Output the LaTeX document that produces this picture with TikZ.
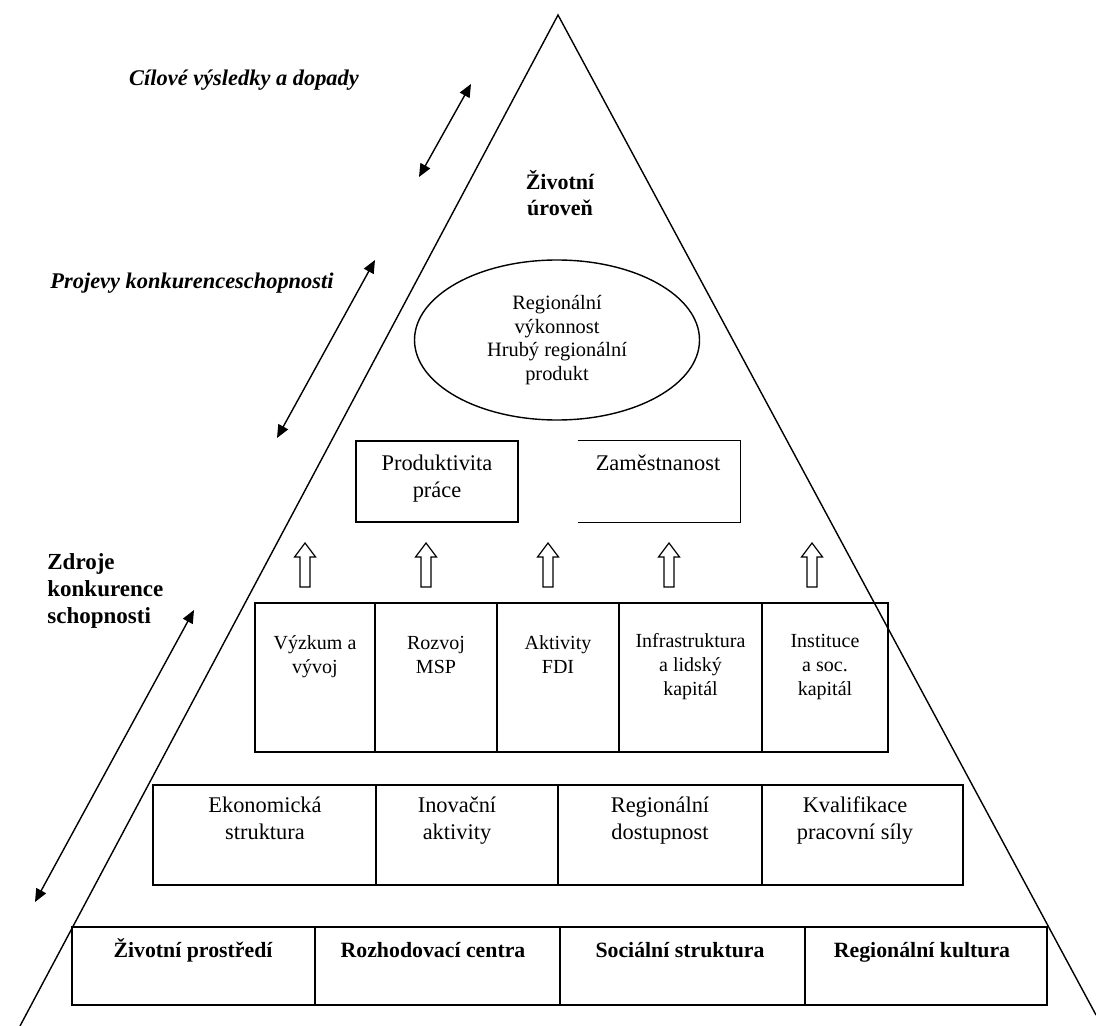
\documentclass[tikz,border=0pt]{standalone}
\usepackage{fontspec}
\setmainfont{Liberation Serif}
\usetikzlibrary{arrows.meta,shapes.geometric}
\begin{document}
\begin{tikzpicture}[x=0.5pt,y=-0.5pt,
  ln/.style={line width=0.7pt},
  cell/.style n args={2}{draw, line width=0.7pt, minimum width=#1, minimum height=#2, inner sep=0pt},
  txt/.style={align=center, inner sep=0pt, anchor=base, font=\fontsize{11.2}{13.5}\selectfont},
  smalltxt/.style={align=center, inner sep=0pt, anchor=base, font=\fontsize{10}{11.9}\selectfont},
  boldtxt/.style={align=center, inner sep=0pt, anchor=base, font=\fontsize{10.9}{13}\selectfont\bfseries},
  lab/.style={inner sep=0pt, font=\fontsize{11.2}{13.5}\selectfont\bfseries\itshape},
  dbl/.style={{Triangle[length=6.5pt,width=5.5pt]}-{Triangle[length=6.5pt,width=5.5pt]}, line width=0.7pt},
  hollowup/.pic={\draw[line width=0.6pt] (-5,22) -- (-5,-8) -- (-10.5,-8) -- (0,-22) -- (10.5,-8) -- (5,-8) -- (5,22) -- cycle;}
]
\useasboundingbox (0,0) rectangle (1096,1026);

% pyramid
\coordinate (apex) at (558,15);
\coordinate (bl) at (20,1026);
\coordinate (br) at (1096,1015);
\draw[ln] (bl) -- (apex) -- (br);

% side labels and arrows
\node[lab] (goal) at (244,80) {Cílové výsledky a dopady};
\node[lab] (proj) at (192,283) {Projevy konkurenceschopnosti};
\node[align=left, anchor=north west, inner sep=0pt, font=\fontsize{11.5}{13.5}\selectfont\bfseries] (src) at (47,553) {Zdroje\\konkurence\\schopnosti};

\coordinate (a1s) at (419,177); \coordinate (a1e) at (471,84);
\coordinate (a2s) at (277,438); \coordinate (a2e) at (375,260);
\coordinate (a3s) at (35,902);  \coordinate (a3e) at (194,610);
\draw[dbl] (a1s) -- (a1e);
\draw[dbl] (a2s) -- (a2e);
\draw[dbl] (a3s) -- (a3e);

% top (base anchor = baseline of last line)
\node[align=center, inner sep=0pt, anchor=base, font=\fontsize{11}{13}\selectfont\bfseries] (life) at (560,216) {Životní\\úroveň};
\node[draw, ellipse, ln, minimum width=142.5pt, minimum height=80pt, inner sep=0pt] (perf) at (557,340) {};
\node[smalltxt, font=\fontsize{10.2}{11.75}\selectfont] (perftxt) at (557,380) {Regionální\\výkonnost\\Hrubý regionální\\produkt};

% productivity / employment
\node[cell={81pt}{40.5pt}] (prod) at (437,481.5) {};
\node[txt] (prodtxt) at (437,497) {Produktivita\\práce};
\node[minimum width=81pt, minimum height=40.5pt, inner sep=0pt] (emp) at (659,481.5) {};
\draw[ln] (emp.north west) -- (emp.north east) -- (emp.south east) -- (emp.south west);
\node[txt] (emptxt) at (658,470) {Zaměstnanost};

% hollow arrows
\pic (u1) at (305,565) {hollowup};
\pic (u2) at (426,565) {hollowup};
\pic (u3) at (548,565) {hollowup};
\pic (u4) at (669,565) {hollowup};
\pic (u5) at (812,565) {hollowup};

% row 2
\node[cell={60pt}{74.5pt}] (r2a) at (315,677.5) {};
\node[cell={61pt}{74.5pt}] (r2b) at (436,677.5) {};
\node[cell={61pt}{74.5pt}] (r2c) at (558,677.5) {};
\node[cell={71.5pt}{74.5pt}] (r2d) at (690.5,677.5) {};
\node[cell={63pt}{74.5pt}] (r2e) at (825,677.5) {};
\node[smalltxt] (t2a) at (315,673) {Výzkum a\\vývoj};
\node[smalltxt] (t2b) at (436,673) {Rozvoj\\MSP};
\node[smalltxt] (t2c) at (558,673) {Aktivity\\FDI};
\node[smalltxt] (t2d) at (690.5,695) {Infrastruktura\\a lidský\\kapitál};
\node[smalltxt] (t2e) at (825,695) {Instituce\\a soc.\\kapitál};

% row 3
\node[cell={111.5pt}{50pt}] (r3a) at (264.5,835) {};
\node[cell={91pt}{50pt}] (r3b) at (467,835) {};
\node[cell={102pt}{50pt}] (r3c) at (660,835) {};
\node[cell={100.5pt}{50pt}] (r3d) at (862.5,835) {};
\node[txt] (t3a) at (265,839) {Ekonomická\\struktura};
\node[txt] (t3b) at (457,839) {Inovační\\aktivity};
\node[txt] (t3c) at (660,839) {Regionální\\dostupnost};
\node[txt] (t3d) at (855,839) {Kvalifikace\\pracovní síly};

% row 4
\node[cell={121.5pt}{39pt}] (r4a) at (193.5,966) {};
\node[cell={122.5pt}{39pt}] (r4b) at (437.5,966) {};
\node[cell={122.5pt}{39pt}] (r4c) at (682.5,966) {};
\node[cell={121pt}{39pt}] (r4d) at (926,966) {};
\node[boldtxt] (t4a) at (193,957) {Životní prostředí};
\node[boldtxt] (t4b) at (433,957) {Rozhodovací centra};
\node[boldtxt] (t4c) at (680,957) {Sociální struktura};
\node[boldtxt] (t4d) at (922,957) {Regionální kultura};
\end{tikzpicture}
\end{document}
